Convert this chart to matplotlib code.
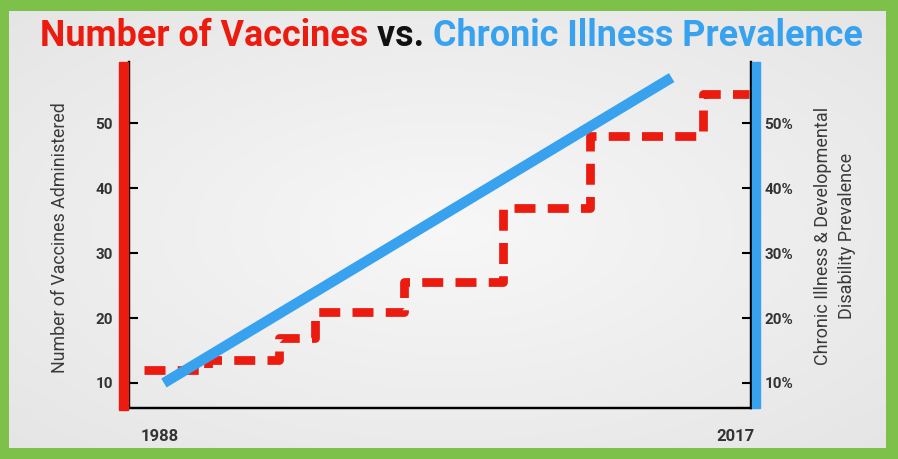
import numpy as np
import matplotlib
matplotlib.use('Agg')
import matplotlib.pyplot as plt
from matplotlib.patches import Rectangle

# data
vax_years = [1987.2, 1990.4, 1994.0, 1995.8, 2000.3, 2005.3, 2009.7, 2015.4, 2017.7]
vax_count = [12, 13.5, 17, 21, 25.5, 37, 48, 54.5, 54.5]
ill_years = [1988.2, 2013.8]
ill_pct = [10, 57]
y_ticks = [10, 20, 30, 40, 50]
x_ticks = [1988, 2017]

RED = '#EC1B10'
BLUE = '#38A2EE'
GREEN = '#7DC14B'
narrow = ['Roboto', 'DejaVu Sans']

W, H = 898, 459
fig = plt.figure(figsize=(W / 100, H / 100), dpi=100)
fig.patch.set_facecolor(GREEN)

# light gray background with a soft bright centre
bg = fig.add_axes([9 / W, 11 / H, 877 / W, 437 / H])
gx, gy = np.meshgrid(np.linspace(-1, 1, 300), np.linspace(-1, 1, 150))
shade = 0.97 - 0.05 * np.clip(np.sqrt(gx ** 2 + gy ** 2), 0, 1.4)
bg.imshow(np.dstack([shade, shade, shade]), aspect='auto', extent=[0, 1, 0, 1])
bg.set_axis_off()

ax = fig.add_axes([129 / W, 51 / H, 622 / W, 346 / H])
ax.patch.set_alpha(0)
ax.set_xlim(1986.44, 2017.8)
ax.set_ylim(6.15, 59.4)

ax.step(vax_years, vax_count, where='post', color=RED, lw=6.3,
        linestyle=(0, (2.4, 1.4)), zorder=3)

ax2 = ax.twinx()
ax2.set_ylim(6.15, 59.4)
ax2.plot(ill_years, ill_pct, color=BLUE, lw=7.5, solid_capstyle='butt', zorder=2)

for a in (ax, ax2):
    a.spines['top'].set_visible(False)
    for s in ('left', 'right', 'bottom'):
        a.spines[s].set_linewidth(1.6)
        a.spines[s].set_color('black')

ax.set_yticks(y_ticks)
ax.set_yticklabels([str(v) for v in y_ticks], fontweight='bold', family=narrow,
                   fontsize=11, color='#333333')
ax.tick_params(axis='y', direction='inout', length=13, width=1.5, pad=5)
ax2.set_yticks(y_ticks)
ax2.set_yticklabels([f'{v}%' for v in y_ticks], fontweight='bold', family=narrow,
                    fontsize=11, color='#333333')
ax2.tick_params(axis='y', direction='inout', length=13, width=1.5, pad=3)
ax.set_xticks(x_ticks)
ax.set_xticklabels([str(v) for v in x_ticks], fontweight='bold', family=narrow,
                   fontsize=12, color='#333333')
ax.tick_params(axis='x', length=0, pad=15)

# coloured bars beside the spines
fig.patches.append(Rectangle((119 / W, 49 / H), 9 / W, 348 / H,
                             transform=fig.transFigure, color=RED, zorder=5))
fig.patches.append(Rectangle((752 / W, 51 / H), 8 / W, 346 / H,
                             transform=fig.transFigure, color=BLUE, zorder=5))

fig.text(60 / W, 1 - 238 / H, 'Number of Vaccines Administered', rotation=90,
         ha='center', va='center', family=narrow, fontsize=12.8, color='#3a3a3a')
fig.text(835 / W, 1 - 236 / H, 'Chronic Illness & Developmental\nDisability Prevalence',
         rotation=90, ha='center', va='center', family=narrow, fontsize=13,
         color='#3a3a3a', linespacing=1.45)

# three-colour title, pieces laid side by side and fitted to the frame width
parts = [('Number of Vaccines ', RED), ('vs. ', '#111111'),
         ('Chronic Illness Prevalence', BLUE)]
fig.canvas.draw()
r = fig.canvas.get_renderer()
texts = []
for s, c in parts:
    texts.append(fig.text(0, 1 - 46 / H, s, family=narrow, fontweight='bold',
                          fontsize=22, color=c, va='baseline', ha='left'))
total = sum(t.get_window_extent(r).width for t in texts)
for t in texts:
    t.set_fontsize(22 * 822 / total)
widths = [t.get_window_extent(r).width for t in texts]
x0 = 451 - sum(widths) / 2
for t, w in zip(texts, widths):
    t.set_x(x0 / W)
    x0 += w

fig.savefig('out.png', dpi=100, facecolor=fig.get_facecolor())
